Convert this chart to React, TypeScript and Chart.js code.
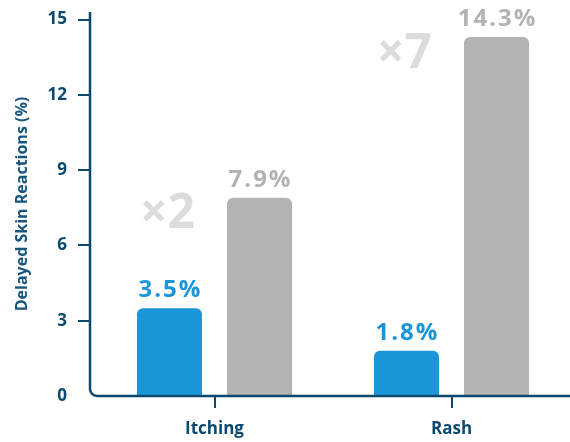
import React, { useEffect, useRef } from 'react';
import { Chart, registerables } from 'chart.js';

Chart.register(...registerables);

const categories = ['Itching', 'Rash'];
const baselineValues = [3.5, 1.8];
const comparisonValues = [7.9, 14.3];
const multipliers = ['×2', '×7'];
const yTicks = [0, 3, 6, 9, 12, 15];

const NAVY = '#0b4a6f';
const TITLE = '#16567e';
const BLUE = '#1a96d8';
const GRAY = '#b3b3b3';
const LIGHT = '#dcdcdc';
const FONT = '"Open Sans", sans-serif';

const customPlugin = {
  id: 'customAxesLabels',
  afterDatasetsDraw(chart: any) {
    const { ctx } = chart;
    ctx.save();
    const m0 = chart.getDatasetMeta(0);
    const m1 = chart.getDatasetMeta(1);
    const ls = 2;
    ctx.textAlign = 'center';
    ctx.textBaseline = 'alphabetic';
    ctx.font = `bold 24px ${FONT}`;
    (ctx as any).letterSpacing = ls + 'px';
    m0.data.forEach((bar: any, i: number) => {
      ctx.fillStyle = BLUE;
      ctx.fillText(baselineValues[i].toFixed(1) + '%', bar.x + ls / 2, bar.y - 11);
    });
    m1.data.forEach((bar: any, i: number) => {
      ctx.fillStyle = GRAY;
      ctx.fillText(comparisonValues[i].toFixed(1) + '%', bar.x + ls / 2, bar.y - 11);
    });
    (ctx as any).letterSpacing = '0px';
    ctx.font = `bold 48px ${FONT}`;
    ctx.textBaseline = 'middle';
    ctx.fillStyle = LIGHT;
    m0.data.forEach((bar: any, i: number) => {
      const top = m1.data[i].y;
      ctx.fillText(multipliers[i], bar.x - 2, top + 17);
    });
    ctx.restore();
  },
  afterDraw(chart: any) {
    const { ctx, chartArea, scales } = chart;
    const axisX = chartArea.left - 6;
    const bottom = chartArea.bottom;
    const r = 7;
    ctx.save();
    ctx.strokeStyle = NAVY;
    ctx.lineWidth = 2.5;
    ctx.lineCap = 'butt';
    ctx.beginPath();
    ctx.moveTo(axisX, chartArea.top);
    ctx.lineTo(axisX, bottom - r);
    ctx.arcTo(axisX, bottom, axisX + r, bottom, r);
    ctx.lineTo(chart.width, bottom);
    ctx.stroke();
    ctx.lineWidth = 2;
    ctx.beginPath();
    yTicks.forEach((v) => {
      if (v === 0) return;
      const y = Math.round(scales.y.getPixelForValue(v));
      ctx.moveTo(axisX - 12, y);
      ctx.lineTo(axisX, y);
    });
    categories.forEach((_c, i) => {
      const x = Math.round(scales.x.getPixelForValue(i));
      ctx.moveTo(x, bottom);
      ctx.lineTo(x, bottom + 12);
    });
    ctx.stroke();
    ctx.restore();
  },
};

export default function App() {
  const ref = useRef<HTMLCanvasElement | null>(null);
  useEffect(() => {
    if (!ref.current) return;
    const chart = new Chart(ref.current, {
      type: 'bar',
      data: {
        labels: categories,
        datasets: [
          {
            label: 'Baseline',
            data: baselineValues,
            backgroundColor: BLUE,
            borderRadius: { topLeft: 6, topRight: 6, bottomLeft: 0, bottomRight: 0 },
            borderSkipped: false,
            categoryPercentage: 0.76,
            barPercentage: 0.722,
          },
          {
            label: 'Comparison',
            data: comparisonValues,
            backgroundColor: GRAY,
            borderRadius: { topLeft: 6, topRight: 6, bottomLeft: 0, bottomRight: 0 },
            borderSkipped: false,
            categoryPercentage: 0.76,
            barPercentage: 0.722,
          },
        ],
      },
      options: {
        animation: false,
        responsive: false,
        maintainAspectRatio: false,
        layout: { padding: { top: 12, right: 0, bottom: 2, left: 0 } },
        plugins: { legend: { display: false }, tooltip: { enabled: false } },
        scales: {
          x: {
            grid: { display: false, drawTicks: false },
            border: { display: false },
            ticks: {
              color: NAVY,
              font: { family: FONT, size: 17, weight: 'bold' },
              padding: 23,
            },
            afterFit: (scale: any) => {
              scale.height = 44;
            },
          },
          y: {
            min: 0,
            max: 15.3,
            grid: {
              display: true,
              drawOnChartArea: false,
              drawTicks: true,
              tickLength: 29,
              color: 'rgba(0,0,0,0)',
            },
            border: { display: false },
            afterBuildTicks: (scale: any) => {
              scale.ticks = yTicks.map((v) => ({ value: v }));
            },
            ticks: {
              color: NAVY,
              font: { family: FONT, size: 17, weight: 'bold' },
              padding: 0,
            },
            title: {
              display: true,
              text: 'Delayed Skin Reactions (%)',
              color: TITLE,
              font: { family: FONT, size: 16, weight: 'bold' },
              padding: { top: 13, bottom: 0 },
            },
            afterFit: (scale: any) => {
              scale.width = 96;
            },
          },
        },
      },
      plugins: [customPlugin],
    });
    return () => chart.destroy();
  }, []);
  return (
    <div style={{ position: 'fixed', left: 0, top: 0, width: 570, height: 442, background: '#fff' }}>
      <canvas ref={ref} width={570} height={442} style={{ width: 570, height: 442 }} />
    </div>
  );
}
